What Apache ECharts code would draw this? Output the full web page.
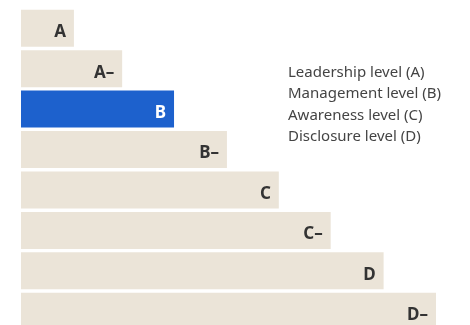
<!DOCTYPE html>
<html>
<head>
<meta charset="utf-8">
<script src="https://cdn.jsdelivr.net/npm/echarts@6/dist/echarts.min.js"></script>
<style>
  html, body { margin: 0; padding: 0; background: #fff; }
  #chart { width: 470px; height: 325px; }
</style>
</head>
<body>
<div id="chart"></div>
<script>
const grades = ["A", "A–", "B", "B–", "C", "C–", "D", "D–"];
const widths = [1.02, 1.95, 2.95, 3.97, 4.97, 5.97, 6.99, 8];
const highlight = "B";
const levelNotes = [
  "Leadership level (A)",
  "Management level (B)",
  "Awareness level (C)",
  "Disclosure level (D)",
];

const chart = echarts.init(document.getElementById("chart"));
chart.setOption({
  animation: false,
  grid: { left: 21, top: 8, width: 415, height: 323.5, outerBoundsMode: "none" },
  xAxis: { type: "value", min: 0, max: 8, show: false },
  yAxis: {
    type: "category",
    data: grades,
    inverse: true,
    show: false,
  },
  graphic: [
    {
      type: "text",
      left: 288,
      top: 62,
      style: {
        text: levelNotes.join("\n"),
        font: "15px 'Noto Sans'",
        lineHeight: 21.3,
        fill: "#444",
      },
    },
  ],
  series: [
    {
      type: "bar",
      barWidth: 37,
      data: grades.map((g, i) => ({
        value: widths[i],
        itemStyle: { color: g === highlight ? "#1d61cd" : "#ebe4d8" },
        label: { color: g === highlight ? "#fff" : "#333" },
      })),
      label: {
        show: true,
        position: "insideRight",
        distance: 8,
        offset: [0, 4],
        formatter: (p) => p.name,
        fontFamily: "Noto Sans",
        fontWeight: "bold",
        fontSize: 17,
      },
    },
  ],
});
</script>
</body>
</html>
